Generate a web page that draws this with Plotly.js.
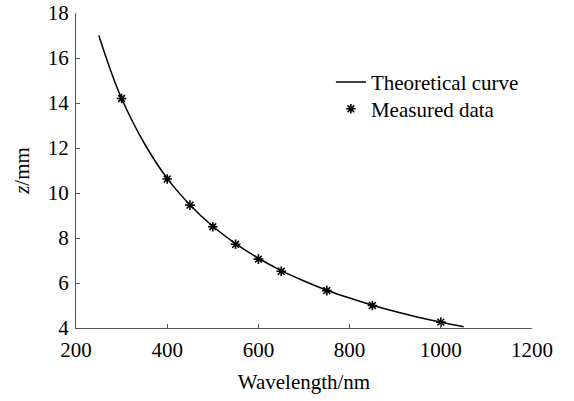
<!DOCTYPE html>
<html>
<head>
<meta charset="utf-8">
<script src="https://cdn.plot.ly/plotly-3.0.1.min.js"></script>
<style>html,body{margin:0;padding:0;background:#fff;}#chart{width:574px;height:401px;}</style>
</head>
<body>
<div id="chart"></div>
<script>
// Theoretical curve
const curveX = [250, 275, 300, 350, 400, 450, 500, 550, 600, 650, 700, 750, 800, 850, 900, 950, 1000, 1050];
const curveZ = [17.0, 15.5, 14.2, 12.2, 10.65, 9.47, 8.52, 7.75, 7.1, 6.55, 6.09, 5.68, 5.33, 5.01, 4.73, 4.48, 4.26, 4.06];
// Measured data
const measX = [300, 400, 450, 500, 550, 600, 650, 750, 850, 1000];
const measZ = [14.2, 10.62, 9.46, 8.5, 7.72, 7.06, 6.52, 5.66, 5.0, 4.26];
// Tick labels
const xTicks = [200, 400, 600, 800, 1000, 1200];
const yTicks = [4, 6, 8, 10, 12, 14, 16, 18];

const font = {family: '"Liberation Serif", "Times New Roman", serif', size: 21, color: '#000'};
const axisCommon = {
  showline: true, linecolor: '#555', linewidth: 1,
  ticks: 'inside', ticklen: 4, tickcolor: '#555', tickwidth: 1,
  showgrid: false, zeroline: false, mirror: false,
  tickfont: font
};

const data = [
  {x: curveX, y: curveZ, type: 'scatter', mode: 'lines', name: 'Theoretical curve',
   legend: 'legend',
   line: {color: '#000', width: 1.5, shape: 'spline', smoothing: 1}},
  {x: measX, y: measZ, type: 'scatter', mode: 'markers', name: 'Measured data',
   legend: 'legend2',
   marker: {symbol: 'asterisk-open', size: 8, color: '#000', line: {color: '#000', width: 1.6}}}
];

const legendCommon = {xanchor: 'left', yanchor: 'top', bgcolor: 'rgba(0,0,0,0)', font: font};

const layout = {
  width: 574, height: 401,
  margin: {l: 76, r: 42, t: 13, b: 73},
  paper_bgcolor: '#fff', plot_bgcolor: '#fff',
  font: font,
  showlegend: true,
  legend: Object.assign({}, legendCommon, {x: 0.559, y: 0.845}),
  legend2: Object.assign({}, legendCommon, {x: 0.559, y: 0.760}),
  xaxis: Object.assign({}, axisCommon, {
    range: [200, 1200], tickvals: xTicks, ticktext: xTicks.map(String),
    ticklabelstandoff: 3,
    title: {text: 'Wavelength/nm', font: font, standoff: 13}
  }),
  yaxis: Object.assign({}, axisCommon, {
    range: [4, 18], tickvals: yTicks, ticktext: yTicks.map(String),
    ticklabelstandoff: 2,
    title: {text: '<i>z</i>/mm', font: font, standoff: 12}
  })
};

Plotly.newPlot('chart', data, layout, {displayModeBar: false, staticPlot: true});
</script>
</body>
</html>
